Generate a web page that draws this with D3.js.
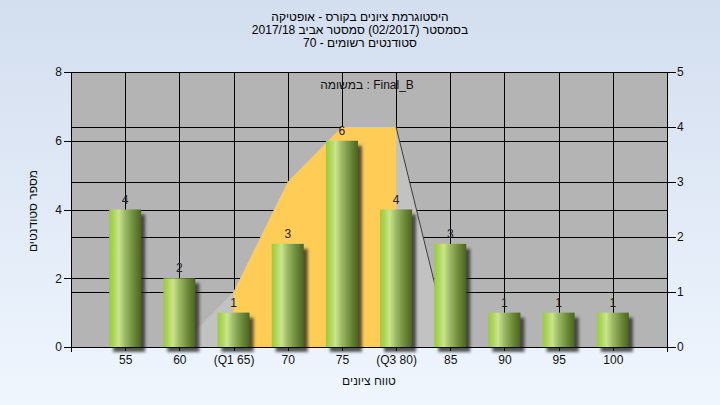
<!DOCTYPE html>
<html><head><meta charset="utf-8">
<script src="https://cdn.jsdelivr.net/npm/d3@7"></script>
<style>
body{margin:0;background:#fff;}
svg{display:block;font-family:"Liberation Sans",Arial,sans-serif;}
</style>
</head><body><svg id="c" width="720" height="405"></svg>
<script>
// ---- data ----
const titleLines = ["היסטוגרמת ציונים בקורס - אופטיקה", "בסמסטר  (02/2017)  סמסטר אביב 2017/18", "סטודנטים רשומים - 70"];
const seriesLabel = "במשומה : Final_B";
const categories = ["55","60","(Q1 65)","70","75","(Q3 80)","85","90","95","100"];
const counts = [4,2,1,3,6,4,3,1,1,1];
const curvePos = [0,1,2,3,4,5,6,7,8,9,10,11];
const curveValues = [0,0,0,1,3,4,4,0,0,0,0,0];
const quartileStart = 3, quartileEnd = 6;
const leftTicks = [0,2,4,6,8];
const rightTicks = [0,1,2,3,4,5];
const xTitle = "טווח ציונים";
const yTitle = "מספר סטודנטים";

// ---- layout ----
const W = 720, H = 405;
const L = 71, R = 667, T = 72, B = 347;
const svg = d3.select("#c");
const defs = svg.append("defs");

const bg = defs.append("linearGradient").attr("id","bg").attr("x1",0).attr("y1",0).attr("x2",0).attr("y2",1);
bg.append("stop").attr("offset","0%").attr("stop-color","#d3deef");
bg.append("stop").attr("offset","100%").attr("stop-color","#eff6fe");

const bar = defs.append("linearGradient").attr("id","bar").attr("x1",0).attr("y1",0).attr("x2",1).attr("y2",0);
[["0%","#9acb3e"],["12%","#a9d455"],["30%","#cbe48d"],["50%","#9bb866"],["75%","#6f8c3a"],["100%","#4a6420"]]
  .forEach(([o,c])=>bar.append("stop").attr("offset",o).attr("stop-color",c));

const sh = defs.append("filter").attr("id","shadow").attr("x","-50%").attr("y","-50%").attr("width","200%").attr("height","200%");
sh.append("feGaussianBlur").attr("stdDeviation",1.8);

svg.append("rect").attr("width",W).attr("height",H).attr("fill","url(#bg)");

const x = d3.scaleLinear().domain([0,11]).range([L,R]);
const yL = d3.scaleLinear().domain([0,8]).range([B,T]);
const yR = d3.scaleLinear().domain([0,5]).range([B,T]);

// plot background
svg.append("rect").attr("x",L).attr("y",T).attr("width",R-L).attr("height",B-T).attr("fill","#b4b4b4");

// gridlines
const grid = svg.append("g").attr("stroke","#000").attr("stroke-width",1).attr("shape-rendering","crispEdges");
grid.selectAll(".gl").data(leftTicks.filter(d=>d>0&&d<8)).join("line")
  .attr("x1",L).attr("x2",R).attr("y1",d=>Math.round(yL(d))+0.5).attr("y2",d=>Math.round(yL(d))+0.5);
grid.selectAll(".gr").data(rightTicks.filter(d=>d>0&&d<5)).join("line")
  .attr("x1",L).attr("x2",R).attr("y1",d=>Math.round(yR(d))+0.5).attr("y2",d=>Math.round(yR(d))+0.5);
grid.selectAll(".gv").data(curvePos.filter(d=>d>0&&d<11)).join("line")
  .attr("y1",T).attr("y2",B).attr("x1",d=>Math.round(x(d))+0.5).attr("x2",d=>Math.round(x(d))+0.5);
grid.append("line").attr("x1",L).attr("x2",R).attr("y1",T+0.5).attr("y2",T+0.5);

// curve area
const curve = curvePos.map((p,i)=>({p, v:curveValues[i]}));
const area = d3.area().x(d=>x(d.p)).y0(B).y1(d=>yR(d.v));
svg.append("path").datum(curve).attr("d",area).attr("fill","#c2c2c2");
const inner = curve.filter(d=>d.p>=quartileStart && d.p<=quartileEnd);
svg.append("path").datum(inner).attr("d",area).attr("fill","#ffcc55");
// descending edge line
const edge = curve.filter(d=>d.p>=quartileEnd && d.p<=quartileEnd+1);
svg.append("path").datum(edge).attr("d",d3.line().x(d=>x(d.p)).y(d=>yR(d.v)))
  .attr("fill","none").attr("stroke","#3c3c3c").attr("stroke-width",1);

// bars
const bw = 32;
const bars = svg.append("g");
bars.selectAll(".s").data(counts).join("rect")
  .attr("x",(d,i)=>x(i+1)-bw/2+4).attr("y",d=>yL(d)+5)
  .attr("width",bw).attr("height",d=>B-yL(d))
  .attr("fill","#202020").attr("opacity",0.75).attr("filter","url(#shadow)");
bars.selectAll(".b").data(counts).join("rect")
  .attr("x",(d,i)=>x(i+1)-bw/2).attr("y",d=>yL(d))
  .attr("width",bw).attr("height",d=>B-yL(d))
  .attr("fill","url(#bar)");
bars.selectAll(".t").data(counts).join("text")
  .attr("x",(d,i)=>x(i+1)).attr("y",d=>yL(d)-6)
  .attr("text-anchor","middle").attr("font-size",12).attr("fill","#1c1c28")
  .text(d=>d);

// axes
function styleAxis(g){
  g.attr("font-family",null).attr("font-size",12);
  g.selectAll("path,line").attr("stroke","#000").attr("shape-rendering","crispEdges");
  g.selectAll("text").attr("fill","#111");
}
svg.append("g").attr("transform",`translate(${L},0)`)
  .call(d3.axisLeft(yL).tickValues(leftTicks).tickFormat(d3.format("d")).tickSize(7).tickSizeOuter(0).tickPadding(2))
  .call(styleAxis);
svg.append("g").attr("transform",`translate(${R},0)`)
  .call(d3.axisRight(yR).tickValues(rightTicks).tickFormat(d3.format("d")).tickSize(9).tickSizeOuter(0).tickPadding(1))
  .call(styleAxis);
svg.append("g").attr("transform",`translate(0,${B})`)
  .call(d3.axisBottom(x).tickValues(d3.range(1,11)).tickFormat(i=>categories[i-1]).tickSize(4).tickSizeOuter(5).tickPadding(4))
  .call(styleAxis);

// texts
const tg = svg.append("g").attr("font-size",12).attr("fill","#000").attr("text-anchor","middle").style("white-space","pre");
titleLines.forEach((t,i)=>{
  tg.append("text").attr("x",360).attr("y",21+i*13).text(t);
});
svg.append("text").attr("x",367).attr("y",89).attr("text-anchor","middle").attr("font-size",12).attr("fill","#111")
  .text(seriesLabel);
svg.append("text").attr("x",369).attr("y",385).attr("text-anchor","middle").attr("font-size",12).attr("fill","#111")
  .text(xTitle);
svg.append("text").attr("transform","translate(37,211) rotate(-90)").attr("text-anchor","middle").attr("font-size",12).attr("fill","#111")
  .text(yTitle);
</script></body></html>
